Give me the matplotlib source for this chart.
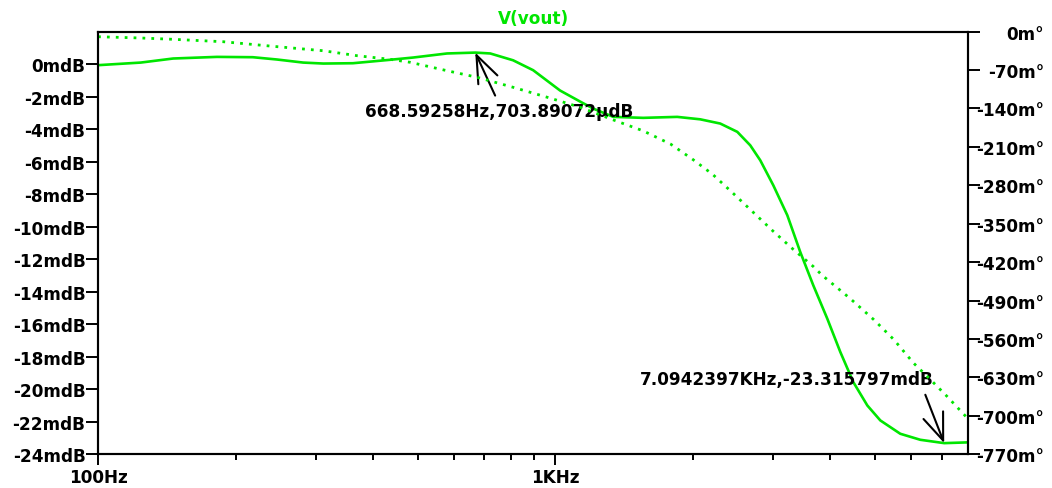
import matplotlib
matplotlib.use("Agg")
import matplotlib.pyplot as plt
from matplotlib.ticker import FixedLocator, NullFormatter

plt.rcParams['font.family'] = ['DejaVu Sans']
plt.rcParams['font.weight'] = 'bold'
plt.rcParams['font.size'] = 12.2

GREEN = '#00e600'

# magnitude of V(vout), mdB
mag_freq = [100, 124, 146, 182, 218, 246, 281, 311, 361, 435, 489, 580, 668.59258,
            721, 809, 895, 1025, 1134, 1211, 1340, 1558, 1849, 2076, 2296, 2502,
            2671, 2809, 3000, 3219, 3436, 3669, 3937, 4204, 4488, 4817, 5143, 5687,
            6290, 7094.2397, 7970]
mag_mdb = [-0.07, 0.09, 0.34, 0.44, 0.42, 0.28, 0.09, 0.03, 0.05, 0.26, 0.40, 0.65,
           0.70389, 0.65, 0.23, -0.38, -1.63, -2.31, -2.74, -3.25, -3.31, -3.25,
           -3.40, -3.66, -4.17, -5.00, -5.92, -7.46, -9.30, -11.56, -13.61, -15.66,
           -17.71, -19.56, -21.00, -21.92, -22.74, -23.11, -23.315797, -23.27]

# phase of V(vout), m°
ph_freq = [100, 124, 146, 188, 241, 311, 369, 435, 482, 580, 675, 809, 961, 1134,
           1340, 1558, 1788, 2000, 2209, 2438, 2693, 3000, 3319, 3669, 3837, 4427,
           4979, 5503, 6081, 6620, 7205, 7970]
ph_mdeg = [-9.5, -11.8, -14.2, -18.6, -26.9, -35.0, -44.1, -50.6, -56.1, -71.4,
           -83.4, -101.6, -119.8, -138.0, -161, -181, -205, -233, -260, -293, -327,
           -364, -397, -428, -444, -487, -525, -561, -604, -634, -665, -704]

mag_ticks = list(range(-24, 1, 2))
ph_ticks = list(range(-770, 1, 70))

fig = plt.figure(figsize=(10.52, 4.89), dpi=100)
ax = fig.add_axes([0.0932, 0.069, 0.8270, 0.8645])
ax2 = ax.twinx()

ax.plot(mag_freq, mag_mdb, color=GREEN, lw=1.9, solid_joinstyle='round')
ax2.plot(ph_freq, ph_mdeg, color=GREEN, lw=2.0, linestyle=(0, (1, 2.2)))

ax.set_xscale('log')
ax.set_xlim(100, 8000)
ax.set_ylim(-24, 2)
ax2.set_ylim(-770, 0)

# frequency axis
ax.xaxis.set_major_locator(FixedLocator([100, 1000]))
ax.set_xticklabels(['100Hz', '1KHz'])
ax.xaxis.set_minor_locator(FixedLocator([200, 300, 400, 500, 600, 700, 800, 900,
                                         2000, 3000, 4000, 5000, 6000, 7000]))
ax.xaxis.set_minor_formatter(NullFormatter())
ax.tick_params(axis='x', which='major', length=8, width=1.4, pad=2, direction='out')
ax.tick_params(axis='x', which='minor', length=4.5, width=1.4, direction='out')

ax.set_yticks(mag_ticks)
ax.set_yticklabels([f'{v}mdB' for v in mag_ticks])
ax.tick_params(axis='y', length=8.6, width=1.4, pad=0.5)

ax2.set_yticks(ph_ticks)
ax2.set_yticklabels([f'{v}m°' for v in ph_ticks])
ax2.tick_params(axis='y', length=8.6, width=1.4, pad=46)
for lbl in ax2.get_yticklabels():
    lbl.set_horizontalalignment('right')

for a in (ax, ax2):
    for s in a.spines.values():
        s.set_linewidth(1.5)
        s.set_color('black')

ax.set_title('V(vout)', color=GREEN, fontsize=12.2, fontweight='bold', pad=6)

# cursor readouts
arrow = dict(arrowstyle='->,head_length=1.6,head_width=0.62', color='black',
             lw=1.5, shrinkA=0, shrinkB=0)
ax.annotate('', xy=(668.59258, 0.70389), xytext=(739, -1.94), arrowprops=arrow)
ax.text(384, -2.90, '668.59258Hz,703.89072µdB', ha='left', va='center')
ax.annotate('', xy=(7094.2397, -23.315797), xytext=(6451, -20.34), arrowprops=arrow)
ax.text(1535, -19.39, '7.0942397KHz,-23.315797mdB', ha='left', va='center')

fig.savefig('out.png', dpi=100)
